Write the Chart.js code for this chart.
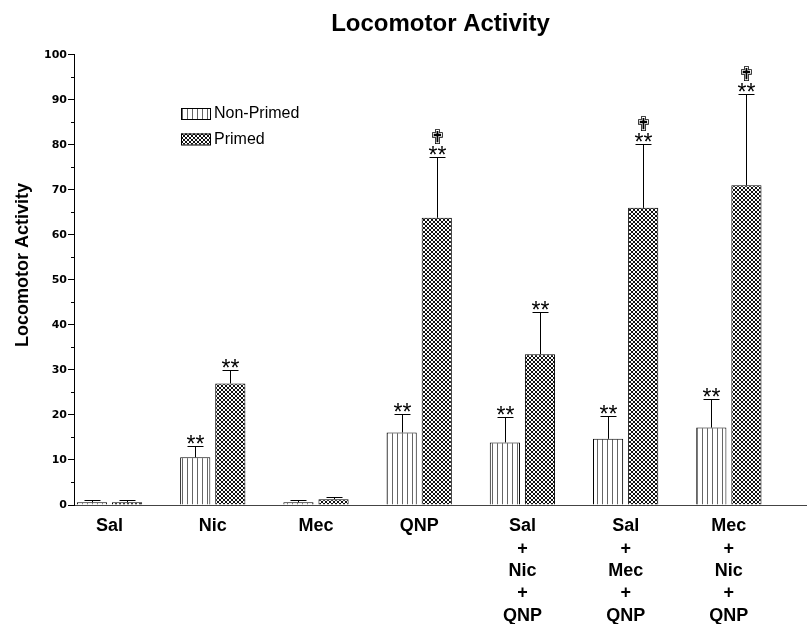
<!DOCTYPE html>
<html>
<head>
<meta charset="utf-8">
<script src="https://cdn.jsdelivr.net/npm/chart.js@4.4.1/dist/chart.umd.min.js"></script>
<style>
    html, body { margin: 0; padding: 0; background: #fff; }
    #wrap { width: 807px; height: 624px; }
</style>
</head>
<body>
<div id="wrap"><canvas id="chart"></canvas></div>
<script>
// --- Data ---
const groupLabels = [
    ['Sal'], ['Nic'], ['Mec'], ['QNP'],
    ['Sal', '+', 'Nic', '+', 'QNP'],
    ['Sal', '+', 'Mec', '+', 'QNP'],
    ['Mec', '+', 'Nic', '+', 'QNP']
];
const groupPos = [1, 2, 3, 4, 5, 6, 7];
const nonPrimed    = [0.6, 10.6, 0.6, 16.1, 13.9, 14.7, 17.2];
const nonPrimedErr = [0.6, 2.6, 0.6, 4.2, 5.7, 5.0, 6.3];
const primed       = [0.6, 27.0, 1.3, 63.8, 33.5, 66.0, 71.0];
const primedErr    = [0.6, 3.0, 0.5, 13.6, 9.3, 14.1, 20.4];
const nonPrimedSig = ['', '**', '', '**', '**', '**', '**'];
const primedSig    = ['', '**', '', '**', '**', '**', '**'];
const primedMark   = ['', '', '', '\u271F', '', '\u271F', '\u271F'];
const yTickValues  = [0, 10, 20, 30, 40, 50, 60, 70, 80, 90, 100];

// --- Fill patterns ---
function stripePattern() {
    const c = document.createElement('canvas');
    c.width = 5; c.height = 5;
    const g = c.getContext('2d');
    g.fillStyle = '#fff'; g.fillRect(0, 0, 5, 5);
    g.fillStyle = '#666'; g.fillRect(2, 0, 1, 5);
    return g.createPattern(c, 'repeat');
}

function crossPattern() {
    const c = document.createElement('canvas');
    c.width = 4; c.height = 4;
    const g = c.getContext('2d');
    g.fillStyle = '#fff'; g.fillRect(0, 0, 4, 4);
    g.fillStyle = '#111';
    for (let i = 0; i < 4; i++) {
        g.fillRect(i, i, 1, 1);
        g.fillRect(3 - i, i, 1, 1);
    }
    return g.createPattern(c, 'repeat');
}

const toPoints = vals => vals.map((v, i) => ({ x: groupPos[i], y: v }));

// centre a string vertically on cy using its real ink box
function drawCentered(ctx, text, x, cy) {
    const m = ctx.measureText(text);
    const base = cy + (m.actualBoundingBoxAscent - m.actualBoundingBoxDescent) / 2;
    ctx.fillText(text, x, base);
}

// --- Plugins ---
const errorBars = {
    id: 'errorBars',
    afterDatasetsDraw(chart) {
        const ctx = chart.ctx;
        const yScale = chart.scales.y;
        chart.data.datasets.forEach((ds, di) => {
            const meta = chart.getDatasetMeta(di);
            meta.data.forEach((bar, i) => {
                const x = Math.round(bar.x) + 0.5;
                const top = Math.round(yScale.getPixelForValue(ds.data[i].y + ds.errors[i])) + 0.5;
                ctx.save();
                ctx.strokeStyle = '#000';
                ctx.lineWidth = 1;
                ctx.beginPath();
                ctx.moveTo(x, bar.y);
                ctx.lineTo(x, top);
                ctx.moveTo(x - 8, top);
                ctx.lineTo(x + 8, top);
                ctx.stroke();

                ctx.fillStyle = '#000';
                ctx.textAlign = 'center';
                ctx.textBaseline = 'alphabetic';
                if (ds.sig[i]) {
                    ctx.font = '23px "Liberation Sans", Arial, sans-serif';
                    drawCentered(ctx, ds.sig[i], x, top - 7);
                }
                if (ds.mark && ds.mark[i]) {
                    ctx.font = '20px "DejaVu Sans", sans-serif';
                    drawCentered(ctx, ds.mark[i], x, top - 21);
                }
                ctx.restore();
            });
        });
    }
};

const extras = {
    id: 'extras',
    afterDraw(chart) {
        const ctx = chart.ctx;
        const area = chart.chartArea;
        const yScale = chart.scales.y;

        // minor ticks at the 5s
        ctx.save();
        ctx.strokeStyle = '#000';
        ctx.lineWidth = 1;
        ctx.beginPath();
        for (let v = 5; v < 100; v += 10) {
            const py = Math.round(yScale.getPixelForValue(v)) + 0.5;
            ctx.moveTo(area.left - 3, py);
            ctx.lineTo(area.left, py);
        }
        ctx.stroke();

        // y axis title
        ctx.translate(23, 265);
        ctx.rotate(-Math.PI / 2);
        ctx.font = 'bold 18px "Liberation Sans", Arial, sans-serif';
        ctx.fillStyle = '#000';
        ctx.textAlign = 'center';
        ctx.textBaseline = 'middle';
        ctx.fillText('Locomotor Activity', 0, 0);
        ctx.restore();

        // legend inside the plot
        ctx.save();
        ctx.font = '16px "Liberation Sans", Arial, sans-serif';
        ctx.textBaseline = 'middle';
        chart.data.datasets.forEach((ds, i) => {
            const bx = 181, by = 108 + i * 25.5;
            ctx.fillStyle = ds.backgroundColor;
            ctx.fillRect(bx, by, 29, 11);
            ctx.strokeStyle = '#000';
            ctx.lineWidth = 1;
            ctx.strokeRect(bx + 0.5, by + 0.5, 29, 11);
            ctx.fillStyle = '#000';
            ctx.fillText(ds.label, 214, by + 6);
        });
        ctx.restore();
    }
};

const ctx = document.getElementById('chart').getContext('2d');
new Chart(ctx, {
    type: 'bar',
    data: {
        datasets: [
            {
                label: 'Non-Primed',
                data: toPoints(nonPrimed),
                errors: nonPrimedErr,
                sig: nonPrimedSig,
                backgroundColor: stripePattern(),
                borderColor: '#000',
                borderWidth: 1,
                categoryPercentage: 0.68,
                barPercentage: 0.86
            },
            {
                label: 'Primed',
                data: toPoints(primed),
                errors: primedErr,
                sig: primedSig,
                mark: primedMark,
                backgroundColor: crossPattern(),
                borderColor: '#000',
                borderWidth: 1,
                categoryPercentage: 0.68,
                barPercentage: 0.86
            }
        ]
    },
    options: {
        responsive: true,
        maintainAspectRatio: false,
        animation: false,
        layout: { padding: { left: 0, right: 0, top: 0, bottom: 0 } },
        plugins: {
            legend: { display: false },
            tooltip: { enabled: false },
            title: {
                display: true,
                text: 'Locomotor Activity',
                fullSize: false,
                color: '#000',
                font: { family: '"Liberation Sans", Arial, sans-serif', size: 24, weight: 'bold' },
                padding: { top: 10, bottom: 16 }
            }
        },
        scales: {
            x: {
                type: 'linear',
                min: 0.6556,
                max: 7.757,
                offset: false,
                afterBuildTicks: s => { s.ticks = groupPos.map(v => ({ value: v })); },
                afterFit: s => { s.height = 119; },
                grid: { display: false, drawTicks: false },
                border: { display: true, color: '#444', width: 1 },
                ticks: {
                    color: '#000',
                    padding: 10,
                    maxRotation: 0,
                    autoSkip: false,
                    font: { family: '"Liberation Sans", Arial, sans-serif', size: 18, weight: 'bold', lineHeight: 1.245 },
                    callback: v => groupLabels[groupPos.indexOf(v)] || ''
                }
            },
            y: {
                min: 0,
                max: 100,
                afterBuildTicks: s => { s.ticks = yTickValues.map(v => ({ value: v })); },
                afterFit: s => { s.width = 74; },
                grid: { drawOnChartArea: false, drawTicks: true, tickLength: 6, color: '#000', tickColor: '#000' },
                border: { display: true, color: '#000', width: 1 },
                ticks: {
                    color: '#000',
                    padding: 1,
                    font: { family: '"DejaVu Sans", sans-serif', size: 11, weight: 'bold' }
                }
            }
        }
    },
    plugins: [errorBars, extras]
});
</script>
</body>
</html>
